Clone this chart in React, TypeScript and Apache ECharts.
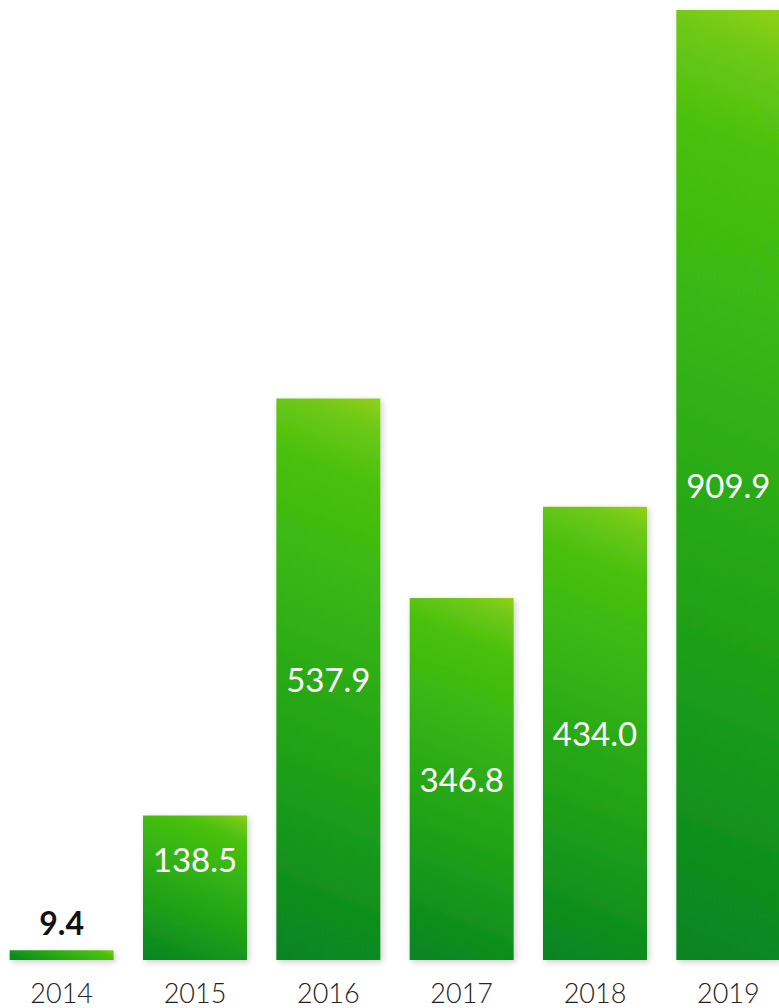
import React, { useEffect, useRef } from "react";
import * as echarts from "echarts";

const years = ["2014", "2015", "2016", "2017", "2018", "2019"];
const values = [9.4, 138.5, 537.9, 346.8, 434.0, 909.9];

const gradientStops = [
  { offset: 0, color: "#078322" },
  { offset: 0.27, color: "#1a9b1a" },
  { offset: 0.5, color: "#2bab15" },
  { offset: 0.69, color: "#3ab812" },
  { offset: 0.85, color: "#4ac010" },
  { offset: 0.95, color: "#70c914" },
  { offset: 1, color: "#92d116" },
];

const BAR_W = 104;
const ANGLE = (22 * Math.PI) / 180;

export default function App() {
  const ref = useRef<HTMLDivElement>(null);
  useEffect(() => {
    if (!ref.current) return;
    const chart = echarts.init(ref.current, null, { renderer: "svg" });
    const makeData = (colors?: any[]) =>
      values.map((v, i) => {
        const item: any = { value: v };
        if (colors) item.itemStyle = { color: colors[i] };
        if (i === 0) {
          item.label = {
            position: "top",
            distance: 12,
            color: "#111",
            fontWeight: "bold",
            fontSize: 32,
          };
        } else if (i === 1) {
          item.label = {
            position: ["50%", 44],
            align: "center",
            verticalAlign: "middle",
          };
        }
        return item;
      });
    const option: any = {
      animation: false,
      grid: { left: 0, right: 0, top: 10, bottom: 48, containLabel: false },
      xAxis: {
        type: "category",
        data: years,
        axisLine: { show: false },
        axisTick: { show: false },
        axisLabel: {
          margin: 19,
          fontFamily: "Lato",
          fontSize: 27,
          lineHeight: 27,
          fontWeight: 300,
          color: "#222",
        },
      },
      yAxis: {
        type: "value",
        min: 0,
        max: 909.9,
        show: false,
        splitLine: { show: false },
      },
      series: [
        {
          type: "bar",
          data: makeData(),
          barWidth: BAR_W,
          itemStyle: {
            color: "#2bab15",
            shadowColor: "rgba(0,0,0,0.2)",
            shadowBlur: 6,
            shadowOffsetX: 2,
            shadowOffsetY: 2,
          },
          label: {
            show: true,
            position: "inside",
            color: "#fff",
            fontFamily: "Lato",
            fontSize: 33,
            fontWeight: "normal",
            formatter: (p: any) => Number(p.value).toFixed(1),
          },
        },
      ],
    };
    chart.setOption(option);
    const colors = values.map((v, i) => {
      const top = chart.convertToPixel({ seriesIndex: 0 }, [i, v]) as number[];
      const base = chart.convertToPixel({ seriesIndex: 0 }, [i, 0]) as number[];
      const cx = top[0];
      const h = base[1] - top[1];
      const cy = (base[1] + top[1]) / 2;
      const sx = Math.sin(ANGLE);
      const cyy = Math.cos(ANGLE);
      const L = BAR_W * sx + h * cyy;
      return new echarts.graphic.LinearGradient(
        cx - (sx * L) / 2,
        cy + (cyy * L) / 2,
        cx + (sx * L) / 2,
        cy - (cyy * L) / 2,
        gradientStops,
        true
      );
    });
    chart.setOption({ series: [{ data: makeData(colors) }] });
    return () => chart.dispose();
  }, []);
  return (
    <div
      style={{
        position: "absolute",
        left: 0,
        top: 0,
        width: 779,
        height: 1008,
        overflow: "hidden",
      }}
    >
      <div
        ref={ref}
        style={{ position: "absolute", left: -5, top: 0, width: 800, height: 1008 }}
      />
    </div>
  );
}
